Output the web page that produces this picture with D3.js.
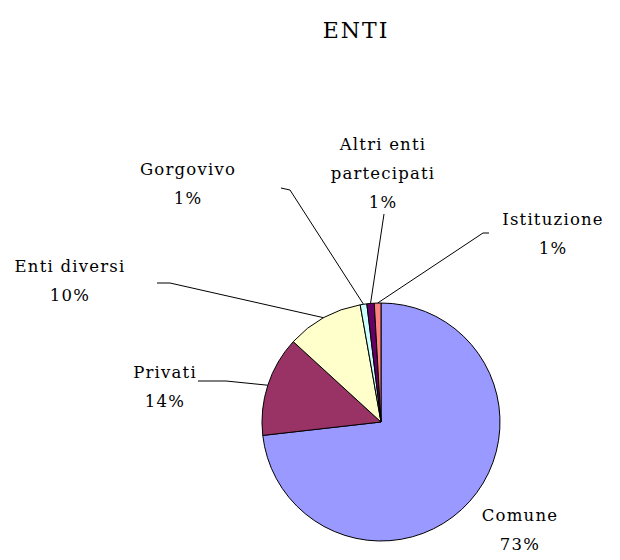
<!DOCTYPE html>
<html>
<head>
<meta charset="utf-8">
<script src="https://cdn.jsdelivr.net/npm/d3@7"></script>
<style>
  body { margin: 0; background: #fff; }
  text { font-family: "DejaVu Serif", serif; font-size: 16.5px; letter-spacing: 1.2px; fill: #000; }
  .title { font-size: 22px; letter-spacing: 2px; }
</style>
</head>
<body>
<div id="chart"></div>
<script>
// values, percent of total
var categories = ['Comune', 'Privati', 'Enti diversi', 'Gorgovivo', 'Altri enti partecipati', 'Istituzione'];
var values = [73.2, 13.6, 10.4, 0.9, 1.0, 0.9];
var colors = ['#9999ff', '#993366', '#ffffcc', '#ccffff', '#660066', '#ff8080'];

var W = 620, H = 560;
var cx = 381, cy = 422, r = 119;

// label placement: text centre x, first baseline y, and where the leader starts
var labelPos = [
    {x: 520, y: 521, line: null},
    {x: 165, y: 378, line: [[198, 381], [226, 381]]},
    {x: 70, y: 272, line: [[157, 283], [170, 283]]},
    {x: 188, y: 175, line: [[281, 188], [290, 190]]},
    {x: 383, y: 150, line: [[384, 214]]},
    {x: 553, y: 225, line: [[489, 233], [483, 233]]}
];
var labelLines = [['Comune'], ['Privati'], ['Enti diversi'], ['Gorgovivo'], ['Altri enti', 'partecipati'], ['Istituzione']];

var svg = d3.select('#chart').append('svg').attr('width', W).attr('height', H);

svg.append('text').attr('class', 'title').attr('x', 356).attr('y', 38)
    .attr('text-anchor', 'middle').text('ENTI');

var pie = d3.pie().sort(null).value(function(d){ return d; });
var arcs = pie(values);
var arc = d3.arc().innerRadius(0).outerRadius(r);
var edge = d3.arc().innerRadius(r).outerRadius(r);

var g = svg.append('g').attr('transform', 'translate(' + cx + ',' + cy + ')');
g.selectAll('path').data(arcs).enter().append('path')
    .attr('d', arc)
    .attr('fill', function(d, i){ return colors[i]; })
    .attr('stroke', '#000').attr('stroke-width', 1);

// leader lines
var line = d3.line();
arcs.forEach(function(a, i){
    var p = labelPos[i];
    if (!p.line) return;
    var c = edge.centroid(a);
    var pts = p.line.concat([[cx + c[0], cy + c[1]]]);
    svg.append('path').attr('d', line(pts)).attr('fill', 'none')
        .attr('stroke', '#000').attr('stroke-width', 1);
});

// labels
arcs.forEach(function(a, i){
    var p = labelPos[i];
    var t = svg.append('text').attr('text-anchor', 'middle');
    var rows = labelLines[i].concat([Math.round(values[i]) + '%']);
    rows.forEach(function(s, k){
        t.append('tspan').attr('x', p.x).attr('y', p.y + k * 29).text(s);
    });
});
</script>
</body>
</html>
